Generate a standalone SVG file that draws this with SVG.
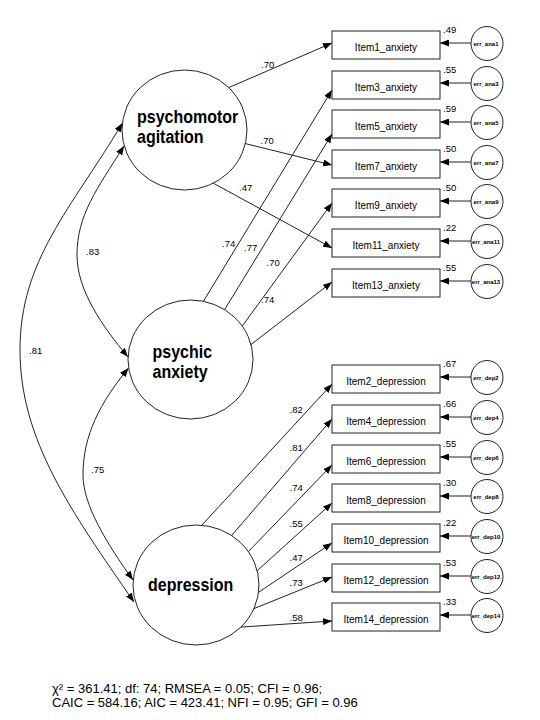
<svg xmlns="http://www.w3.org/2000/svg" width="540" height="720" viewBox="0 0 540 720">
<style>
.ln{fill:none;stroke:#222;stroke-width:1}
.arr{marker-end:url(#ah)}
.cov{fill:none;stroke:#222;stroke-width:1;marker-start:url(#ah);marker-end:url(#ah)}
.box{fill:#fff;stroke:#222;stroke-width:1}
.lat{fill:#fff;stroke:#222;stroke-width:1}
.err{fill:#fff;stroke:#222;stroke-width:1}
.it{font-family:"Liberation Sans",Arial,sans-serif;font-size:10px;text-anchor:middle;fill:#000}
.cf{font-family:"Liberation Sans",Arial,sans-serif;font-size:9.5px;fill:#000}
.el{font-family:"Liberation Sans",Arial,sans-serif;font-size:6px;font-weight:bold;text-anchor:middle;fill:#000}
.lt{font-family:"Liberation Sans",Arial,sans-serif;font-size:16px;font-weight:bold;fill:#000}
.ft{font-family:"Liberation Sans",Arial,sans-serif;font-size:13px;fill:#000}
</style>
<defs>
<marker id="ah" markerUnits="userSpaceOnUse" markerWidth="9" markerHeight="7" refX="9" refY="3.5" viewBox="0 0 9 7" orient="auto-start-reverse">
<path d="M0,0 L9,3.5 L0,7 z" fill="#000"/>
</marker>
</defs>

<g id="connectors">
<!-- psychomotor agitation loadings -->
<line class="ln arr" x1="220.8" y1="91" x2="332" y2="43"/>
<line class="ln arr" x1="237.3" y1="141.6" x2="332" y2="165"/>
<line class="ln arr" x1="204.2" y1="178.2" x2="332" y2="248"/>
<!-- psychic anxiety loadings -->
<line class="ln arr" x1="197.8" y1="310.5" x2="332" y2="90"/>
<line class="ln arr" x1="219.8" y1="317.5" x2="332" y2="134"/>
<line class="ln arr" x1="237.1" y1="333.1" x2="332" y2="203"/>
<line class="ln arr" x1="245.1" y1="349.1" x2="332" y2="282"/>
<!-- depression loadings -->
<line class="ln arr" x1="195.2" y1="532.4" x2="332" y2="384"/>
<line class="ln arr" x1="225.5" y1="542.6" x2="332" y2="419"/>
<line class="ln arr" x1="241" y1="559.2" x2="332" y2="465"/>
<line class="ln arr" x1="250.6" y1="576.7" x2="332" y2="503"/>
<line class="ln arr" x1="250.7" y1="597.6" x2="332" y2="543"/>
<line class="ln arr" x1="243.7" y1="612.8" x2="332" y2="577"/>
<line class="ln arr" x1="232" y1="627.7" x2="332" y2="621"/>
<!-- covariances -->
<path class="cov" d="M122.5,123 C71,209 20,260 20,350 C20,440 71,511 134,602"/>
<path class="cov" d="M124,146 C97,189 77,215 77,255 C77,290 102,326 128,357"/>
<path class="cov" d="M128.5,368 C100,403 83,435 83,475 C83,505 107,544 133,580"/>
<!-- error arrows -->
<line class="ln arr" x1="471" y1="43" x2="440" y2="43"/>
<line class="ln arr" x1="471" y1="83" x2="440" y2="83"/>
<line class="ln arr" x1="471" y1="122" x2="440" y2="122"/>
<line class="ln arr" x1="471" y1="162" x2="440" y2="162"/>
<line class="ln arr" x1="471" y1="201" x2="440" y2="201"/>
<line class="ln arr" x1="471" y1="241" x2="440" y2="241"/>
<line class="ln arr" x1="471" y1="281" x2="440" y2="281"/>
<line class="ln arr" x1="471" y1="377" x2="440" y2="377"/>
<line class="ln arr" x1="471" y1="417" x2="440" y2="417"/>
<line class="ln arr" x1="471" y1="457" x2="440" y2="457"/>
<line class="ln arr" x1="471" y1="496" x2="440" y2="496"/>
<line class="ln arr" x1="471" y1="536" x2="440" y2="536"/>
<line class="ln arr" x1="471" y1="576" x2="440" y2="576"/>
<line class="ln arr" x1="471" y1="615" x2="440" y2="615"/>
<!-- coefficient labels -->
<g class="cf">
<text x="261" y="68">.70</text>
<text x="260.5" y="144">.70</text>
<text x="239" y="191">.47</text>
<text x="222" y="246.5">.74</text>
<text x="244" y="251">.77</text>
<text x="266.5" y="265.5">.70</text>
<text x="261" y="303">.74</text>
<text x="86" y="254.5">.83</text>
<text x="29" y="354">.81</text>
<text x="91" y="473">.75</text>
<text x="289.5" y="412.5">.82</text>
<text x="289.5" y="451">.81</text>
<text x="289.5" y="490.5">.74</text>
<text x="289.5" y="527">.55</text>
<text x="289.5" y="561">.47</text>
<text x="289.5" y="586">.73</text>
<text x="289.5" y="620.5">.58</text>
</g>
</g>

<g id="psychomotor_agitation">
<ellipse class="lat" cx="184.5" cy="130" rx="62.5" ry="60"/>
<text class="lt" transform="translate(137,122.5) scale(1,1.15)">psychomotor</text>
<text class="lt" transform="translate(137,142.5) scale(1,1.15)">agitation</text>
</g>
<g id="psychic_anxiety">
<ellipse class="lat" cx="190.5" cy="359.5" rx="62.5" ry="59.5"/>
<text class="lt" transform="translate(152.5,357.5) scale(1,1.15)">psychic</text>
<text class="lt" transform="translate(152.5,377.5) scale(1,1.15)">anxiety</text>
</g>
<g id="depression">
<ellipse class="lat" cx="196" cy="585" rx="63" ry="60"/>
<text class="lt" transform="translate(148,591) scale(1,1.15)">depression</text>
</g>

<g id="Item1_anxiety"><rect class="box" x="332" y="31" width="108" height="28"/><text class="it" x="386" y="51">Item1_anxiety</text><text class="cf" x="443" y="32.5">.49</text></g>
<g id="Item3_anxiety"><rect class="box" x="332" y="71" width="108" height="28"/><text class="it" x="386" y="91">Item3_anxiety</text><text class="cf" x="443" y="72.5">.55</text></g>
<g id="Item5_anxiety"><rect class="box" x="332" y="110" width="108" height="28"/><text class="it" x="386" y="130">Item5_anxiety</text><text class="cf" x="443" y="111.5">.59</text></g>
<g id="Item7_anxiety"><rect class="box" x="332" y="150" width="108" height="28"/><text class="it" x="386" y="170">Item7_anxiety</text><text class="cf" x="443" y="151.5">.50</text></g>
<g id="Item9_anxiety"><rect class="box" x="332" y="189" width="108" height="28"/><text class="it" x="386" y="209">Item9_anxiety</text><text class="cf" x="443" y="190.5">.50</text></g>
<g id="Item11_anxiety"><rect class="box" x="332" y="229" width="108" height="28"/><text class="it" x="386" y="249">Item11_anxiety</text><text class="cf" x="443" y="230.5">.22</text></g>
<g id="Item13_anxiety"><rect class="box" x="332" y="269" width="108" height="28"/><text class="it" x="386" y="289">Item13_anxiety</text><text class="cf" x="443" y="270.5">.55</text></g>

<g id="Item2_depression"><rect class="box" x="332" y="365" width="108" height="28"/><text class="it" x="386" y="385">Item2_depression</text><text class="cf" x="443" y="366.5">.67</text></g>
<g id="Item4_depression"><rect class="box" x="332" y="405" width="108" height="28"/><text class="it" x="386" y="425">Item4_depression</text><text class="cf" x="443" y="406.5">.66</text></g>
<g id="Item6_depression"><rect class="box" x="332" y="445" width="108" height="28"/><text class="it" x="386" y="465">Item6_depression</text><text class="cf" x="443" y="446.5">.55</text></g>
<g id="Item8_depression"><rect class="box" x="332" y="484" width="108" height="28"/><text class="it" x="386" y="504">Item8_depression</text><text class="cf" x="443" y="485.5">.30</text></g>
<g id="Item10_depression"><rect class="box" x="332" y="524" width="108" height="28"/><text class="it" x="386" y="544">Item10_depression</text><text class="cf" x="443" y="525.5">.22</text></g>
<g id="Item12_depression"><rect class="box" x="332" y="564" width="108" height="28"/><text class="it" x="386" y="584">Item12_depression</text><text class="cf" x="443" y="565.5">.53</text></g>
<g id="Item14_depression"><rect class="box" x="332" y="603" width="108" height="28"/><text class="it" x="386" y="623">Item14_depression</text><text class="cf" x="443" y="604.5">.33</text></g>

<g id="err_ana1"><ellipse class="err" cx="487" cy="43.5" rx="16" ry="17"/><text class="el" x="486" y="45.5">err_ana1</text></g>
<g id="err_ana3"><ellipse class="err" cx="487" cy="83.5" rx="16" ry="17"/><text class="el" x="486" y="85.5">err_ana3</text></g>
<g id="err_ana5"><ellipse class="err" cx="487" cy="122.5" rx="16" ry="17"/><text class="el" x="486" y="124.5">err_ana5</text></g>
<g id="err_ana7"><ellipse class="err" cx="487" cy="162.5" rx="16" ry="17"/><text class="el" x="486" y="164.5">err_ana7</text></g>
<g id="err_ana9"><ellipse class="err" cx="487" cy="201.5" rx="16" ry="17"/><text class="el" x="486" y="203.5">err_ana9</text></g>
<g id="err_ana11"><ellipse class="err" cx="487" cy="241.5" rx="16" ry="17"/><text class="el" x="486" y="243.5">err_ana11</text></g>
<g id="err_ana13"><ellipse class="err" cx="487" cy="281.5" rx="16" ry="17"/><text class="el" x="486" y="283.5">err_ana13</text></g>
<g id="err_dep2"><ellipse class="err" cx="487" cy="377.5" rx="16" ry="17"/><text class="el" x="486" y="379.5">err_dep2</text></g>
<g id="err_dep4"><ellipse class="err" cx="487" cy="417.5" rx="16" ry="17"/><text class="el" x="486" y="419.5">err_dep4</text></g>
<g id="err_dep6"><ellipse class="err" cx="487" cy="457.5" rx="16" ry="17"/><text class="el" x="486" y="459.5">err_dep6</text></g>
<g id="err_dep8"><ellipse class="err" cx="487" cy="496.5" rx="16" ry="17"/><text class="el" x="486" y="498.5">err_dep8</text></g>
<g id="err_dep10"><ellipse class="err" cx="487" cy="536.5" rx="16" ry="17"/><text class="el" x="486" y="538.5">err_dep10</text></g>
<g id="err_dep12"><ellipse class="err" cx="487" cy="576.5" rx="16" ry="17"/><text class="el" x="486" y="578.5">err_dep12</text></g>
<g id="err_dep14"><ellipse class="err" cx="487" cy="615.5" rx="16" ry="17"/><text class="el" x="486" y="617.5">err_dep14</text></g>

<g id="fit_indices">
<text class="ft" x="52" y="693">χ² = 361.41; df: 74; RMSEA = 0.05; CFI = 0.96;</text>
<text class="ft" x="52" y="707">CAIC = 584.16; AIC = 423.41; NFI = 0.95; GFI = 0.96</text>
</g>
</svg>
